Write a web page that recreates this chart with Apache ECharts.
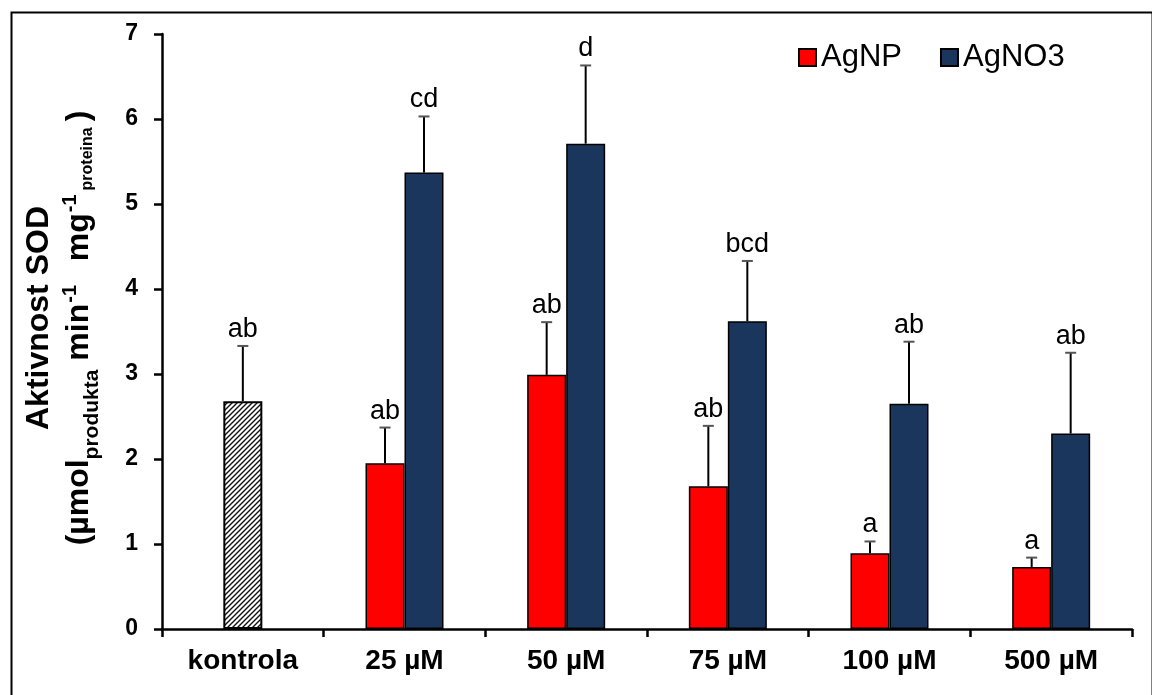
<!DOCTYPE html>
<html>
<head>
<meta charset="utf-8">
<script src="https://cdn.jsdelivr.net/npm/echarts@6/dist/echarts.min.js"></script>
<style>
html,body{margin:0;padding:0;background:#fff;}
#chart{width:1152px;height:695px;}
</style>
</head>
<body>
<div id="chart"></div>
<script>
// ---- data ----
const categories = ['kontrola', '25 µM', '50 µM', '75 µM', '100 µM', '500 µM'];
const kontrolaValues = [2.68, null, null, null, null, null];
const kontrolaErr = [0.65, null, null, null, null, null];
const kontrolaLetters = ['ab', '', '', '', '', ''];
const agnpValues = [null, 1.95, 2.99, 1.68, 0.89, 0.73];
const agnpErr = [null, 0.42, 0.62, 0.71, 0.14, 0.11];
const agnpLetters = ['', 'ab', 'ab', 'ab', 'a', 'a'];
const agno3Values = [null, 5.37, 5.71, 3.62, 2.65, 2.30];
const agno3Err = [null, 0.66, 0.92, 0.71, 0.73, 0.95];
const agno3Letters = ['', 'cd', 'd', 'bcd', 'ab', 'ab'];
const yTicks = [0, 1, 2, 3, 4, 5, 6, 7];

const FONT = "'Liberation Sans', Arial, sans-serif";
const BAR_W = 39;

// hatch pattern for kontrola
const pc = document.createElement('canvas');
pc.width = 5; pc.height = 5;
const g = pc.getContext('2d');
g.fillStyle = '#fff'; g.fillRect(0, 0, 5, 5);
g.strokeStyle = '#111'; g.lineWidth = 1.4;
g.beginPath();
g.moveTo(-1, 6); g.lineTo(6, -1);
g.moveTo(-1, 1); g.lineTo(1, -1);
g.moveTo(4, 6); g.lineTo(6, 4);
g.stroke();

function toErrData(vals, errs) {
  const out = [];
  vals.forEach((v, i) => { if (v != null) out.push([i, v, errs[i]]); });
  return out;
}

function errRender(offset, letters) {
  return function (params, api) {
    const i = api.value(0), v = api.value(1), e = api.value(2);
    const b = api.coord([i, v]);
    const t = api.coord([i, v + e]);
    const x = b[0] + offset;
    const cap = 5.5;
    return {
      type: 'group',
      children: [
        { type: 'line', shape: { x1: x, y1: b[1], x2: x, y2: t[1] }, style: { stroke: '#000', lineWidth: 2 } },
        { type: 'line', shape: { x1: x - cap, y1: t[1], x2: x + cap, y2: t[1] }, style: { stroke: '#555', lineWidth: 2 } },
        { type: 'text', x: x, y: t[1] - 3, style: { text: letters[i], font: "27px " + FONT, fill: '#000', align: 'center', verticalAlign: 'bottom' } }
      ]
    };
  };
}

const chart = echarts.init(document.getElementById('chart'));
const option = {
  animation: false,
  backgroundColor: '#fff',
  textStyle: { fontFamily: FONT },
  grid: { left: 162, right: 20, top: 34, bottom: 66, containLabel: false },
  legend: {
    data: ['AgNP', 'AgNO3'],
    left: 798, top: 42, padding: 0,
    icon: 'rect', itemWidth: 17, itemHeight: 17, itemGap: 38,
    textStyle: { fontSize: 31, color: '#000', fontFamily: FONT }
  },
  xAxis: [
    {
      type: 'category', data: categories,
      axisLine: { lineStyle: { color: '#000', width: 2.5 } },
      axisTick: { show: true, length: 8, lineStyle: { color: '#000', width: 2.5 } },
      axisLabel: { color: '#000', fontSize: 28, fontWeight: 'bold', margin: 18, fontFamily: FONT, interval: 0 }
    },
    { type: 'category', data: categories, show: false }
  ],
  yAxis: {
    type: 'value', min: 0, max: 7, interval: 1,
    axisLine: { show: true, lineStyle: { color: '#000', width: 2.5 } },
    axisTick: { show: true, length: 8, lineStyle: { color: '#000', width: 2.5 } },
    splitLine: { show: false },
    axisLabel: { color: '#000', fontSize: 23, fontWeight: 'bold', margin: 24, fontFamily: FONT,
      formatter: v => yTicks.includes(v) ? String(v) : '' }
  },
  graphic: [
    { type: 'rect', left: 9, top: 10, shape: { width: 1141, height: 700 }, style: { fill: 'none', stroke: '#000', lineWidth: 2 }, silent: true },
    { type: 'text', x: 39, y: 318, rotation: Math.PI / 2,
      style: { text: 'Aktivnost SOD', font: "bold 32px " + FONT, fill: '#000', align: 'center', verticalAlign: 'middle' } },
    { type: 'text', x: 51, y: 328, rotation: Math.PI / 2,
      style: {
        text: '{m|(µmol}{s1|produkta}{m| min}{p1|-1}{m|  mg}{p2|-1}{s2|proteina}{pr|)}',
        align: 'center', verticalAlign: 'top', fill: '#000',
        rich: {
          m: { fontSize: 32, fontWeight: 'bold', fontFamily: FONT, lineHeight: 32, padding: [12, 0, 0, 0], verticalAlign: 'top', fill: '#000' },
          pr: { fontSize: 32, fontWeight: 'bold', fontFamily: FONT, lineHeight: 32, padding: [12, 0, 0, 6], verticalAlign: 'top', fill: '#000' },
          p1: { fontSize: 20, fontWeight: 'bold', fontFamily: FONT, lineHeight: 20, padding: [9, 6, 0, 1], verticalAlign: 'top', fill: '#000' },
          p2: { fontSize: 20, fontWeight: 'bold', fontFamily: FONT, lineHeight: 20, padding: [9, 4, 0, 1], verticalAlign: 'top', fill: '#000' },
          s1: { fontSize: 21, fontWeight: 'bold', fontFamily: FONT, lineHeight: 21, padding: [31, 0, 0, 0], verticalAlign: 'top', fill: '#000' },
          s2: { fontSize: 16, fontWeight: 'bold', fontFamily: FONT, lineHeight: 16, padding: [29, 0, 0, 0], verticalAlign: 'top', fill: '#000' }
        }
      } }
  ],
  series: [
    { name: 'kontrola', type: 'bar', xAxisIndex: 1, data: kontrolaValues, barWidth: BAR_W,
      itemStyle: { color: { image: pc, repeat: 'repeat' }, borderColor: '#000', borderWidth: 2 } },
    { name: 'AgNP', type: 'bar', xAxisIndex: 0, data: agnpValues, barWidth: BAR_W, barGap: '0%',
      itemStyle: { color: '#ff0000', borderColor: '#000', borderWidth: 1.5 } },
    { name: 'AgNO3', type: 'bar', xAxisIndex: 0, data: agno3Values, barWidth: BAR_W, barGap: '0%',
      itemStyle: { color: '#1a365d', borderColor: '#000', borderWidth: 1.5 } },
    { name: 'errK', type: 'custom', xAxisIndex: 0, data: toErrData(kontrolaValues, kontrolaErr),
      renderItem: errRender(0, kontrolaLetters), z: 5, encode: { x: 0, y: 1 } },
    { name: 'errN', type: 'custom', xAxisIndex: 0, data: toErrData(agnpValues, agnpErr),
      renderItem: errRender(-BAR_W / 2, agnpLetters), z: 5, encode: { x: 0, y: 1 } },
    { name: 'errO', type: 'custom', xAxisIndex: 0, data: toErrData(agno3Values, agno3Err),
      renderItem: errRender(BAR_W / 2, agno3Letters), z: 5, encode: { x: 0, y: 1 } }
  ]
};
chart.setOption(option);
</script>
</body>
</html>
